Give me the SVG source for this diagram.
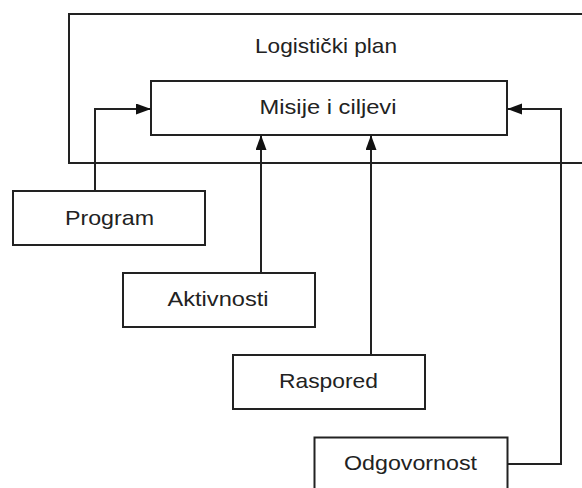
<svg xmlns="http://www.w3.org/2000/svg" width="582" height="488" viewBox="0 0 582 488">
<style>
.box{fill:#fff;stroke:#222;stroke-width:2}
.frame{fill:none;stroke:#222;stroke-width:2}
.lbl{font-family:"Liberation Sans",Arial,sans-serif;font-size:21px;fill:#222;text-anchor:middle}
.con{fill:none;stroke:#222;stroke-width:2}
</style>
<defs>
<marker id="arr" markerUnits="userSpaceOnUse" markerWidth="16" markerHeight="12" refX="15" refY="5.5" orient="auto">
<path d="M0,0 L15,5.5 L0,11 z" fill="#111"/>
</marker>
</defs>
<g id="logisticki-plan">
<rect class="frame" x="69" y="14" width="540" height="149"/>
<text class="lbl" x="326" y="53" textLength="142" lengthAdjust="spacingAndGlyphs">Logistički plan</text>
</g>
<g id="misije">
<rect class="box" x="151" y="81" width="356" height="54"/>
<text class="lbl" x="328" y="114" textLength="137" lengthAdjust="spacingAndGlyphs">Misije i ciljevi</text>
</g>
<g id="program">
<rect class="box" x="13" y="191" width="192" height="54"/>
<text class="lbl" x="109.5" y="225" textLength="89" lengthAdjust="spacingAndGlyphs">Program</text>
</g>
<g id="aktivnosti">
<rect class="box" x="123" y="273" width="192" height="54"/>
<text class="lbl" x="218" y="306" textLength="101" lengthAdjust="spacingAndGlyphs">Aktivnosti</text>
</g>
<g id="raspored">
<rect class="box" x="233" y="355" width="192" height="54"/>
<text class="lbl" x="328.5" y="388" textLength="99" lengthAdjust="spacingAndGlyphs">Raspored</text>
</g>
<g id="odgovornost">
<rect class="box" x="314.5" y="437.5" width="193" height="54"/>
<text class="lbl" x="410.5" y="470" textLength="133" lengthAdjust="spacingAndGlyphs">Odgovornost</text>
</g>
<g id="connectors">
<path class="con" d="M95,191 V109 H151" marker-end="url(#arr)"/>
<path class="con" d="M261,273 V135" marker-end="url(#arr)"/>
<path class="con" d="M371,355 V135" marker-end="url(#arr)"/>
<path class="con" d="M507.5,464 H561 V109 H507" marker-end="url(#arr)"/>
</g>
</svg>
